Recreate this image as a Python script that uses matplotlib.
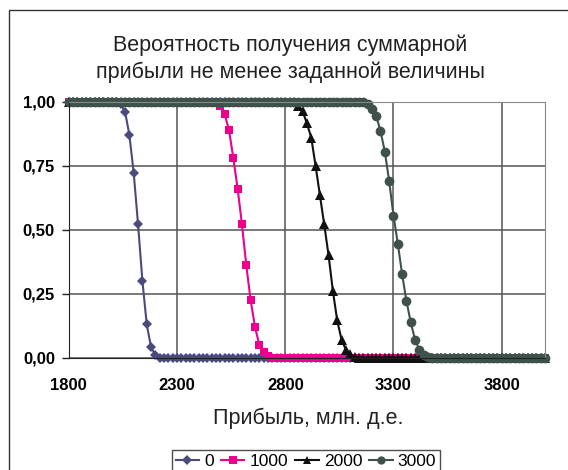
import numpy as np
import matplotlib
matplotlib.use('Agg')
import matplotlib.pyplot as plt
from matplotlib.patches import Rectangle

plt.rcParams['font.family'] = ['Liberation Sans', 'DejaVu Sans']

# profit grid, step 20
profit = np.arange(1800, 4001, 20)

# probability curves (flat parts are 1.00 / 0.00)
p0 = [1.0] * 12 + [0.99, 0.96, 0.87, 0.72, 0.52, 0.30, 0.13, 0.04, 0.01] + [0.0] * 90
p1000 = [1.0] * 34 + [0.995, 0.985, 0.95, 0.89, 0.78, 0.66, 0.52, 0.36, 0.225,
                      0.12, 0.05, 0.02, 0.005] + [0.0] * 64
p2000 = [1.0] * 52 + [0.997, 0.985, 0.963, 0.915, 0.86, 0.75, 0.635, 0.52, 0.40,
                      0.26, 0.145, 0.07, 0.03, 0.012, 0.003] + [0.0] * 44
p3000 = [1.0] * 68 + [0.997, 0.99, 0.973, 0.945, 0.885, 0.805, 0.69, 0.555, 0.445,
                      0.325, 0.22, 0.137, 0.068, 0.03, 0.01, 0.003] + [0.0] * 27

labels = ['0', '1000', '2000', '3000']
series = [p0, p1000, p2000, p3000]
colors = ['#4b4a7c', '#ec008c', '#111111', '#3e524b']
markers = ['D', 's', '^', 'o']
msizes = [5.5, 6.2, 6.5, 7.0]

xticks = [1800, 2300, 2800, 3300, 3800]
yticks = [0, 0.25, 0.5, 0.75, 1.0]

W, H = 568, 470
fig = plt.figure(figsize=(W / 100, H / 100), dpi=100)
fig.patch.set_facecolor('white')

# outer chart frame (cut off on right and bottom)
fig.patches.append(Rectangle((9 / W, -0.1), 1.2, 1 - 10 / H + 0.1,
                             transform=fig.transFigure, fill=False,
                             edgecolor='#333333', linewidth=1.0))

ax = fig.add_axes([68.8 / W, 1 - 357.5 / H, (545 - 68.8) / W, (357.5 - 101.7) / H])

for y, lab, c, m, ms in zip(series, labels, colors, markers, msizes):
    ax.plot(profit, y, color=c, marker=m, markersize=ms, linewidth=1.5,
            markeredgewidth=0, label=lab, clip_on=False)

ax.set_xlim(1800, 4000)
ax.set_ylim(0, 1)
ax.set_xticks(xticks)
ax.set_yticks(yticks)
ax.set_yticklabels([('%.2f' % v).replace('.', ',') for v in yticks])
ax.grid(True, color='#555555', linewidth=1.1)
ax.set_axisbelow(True)

for s in ['top', 'right']:
    ax.spines[s].set_color('#888888')
for s in ['left', 'bottom']:
    ax.spines[s].set_color('#222222')

ax.tick_params(axis='y', length=5, width=1, pad=5, labelsize=12, color='#222222')
ax.tick_params(axis='x', length=0, pad=15, labelsize=12)
for t in ax.get_xticklabels() + ax.get_yticklabels():
    t.set_fontweight('bold')

fig.text(290 / W, 1 - 45 / H, 'Вероятность получения суммарной',
         ha='center', va='center', fontsize=15.5, color='#222222')
fig.text(290 / W, 1 - 72 / H, 'прибыли не менее заданной величины',
         ha='center', va='center', fontsize=15.5, color='#222222')
fig.text(308 / W, 1 - 418 / H, 'Прибыль, млн. д.е.',
         ha='center', va='center', fontsize=15.5, color='#222222')

leg = fig.legend(loc='upper center', bbox_to_anchor=(306 / W, 1 - 445 / H),
                 ncol=4, fontsize=12.5, frameon=True, fancybox=False,
                 handlelength=1.35, columnspacing=0.4, handletextpad=0.3,
                 borderpad=0.2, borderaxespad=0.3, markerscale=0.85)
leg.get_frame().set_edgecolor('#222222')
leg.get_frame().set_linewidth(1.0)

fig.savefig('out.png', dpi=100)
